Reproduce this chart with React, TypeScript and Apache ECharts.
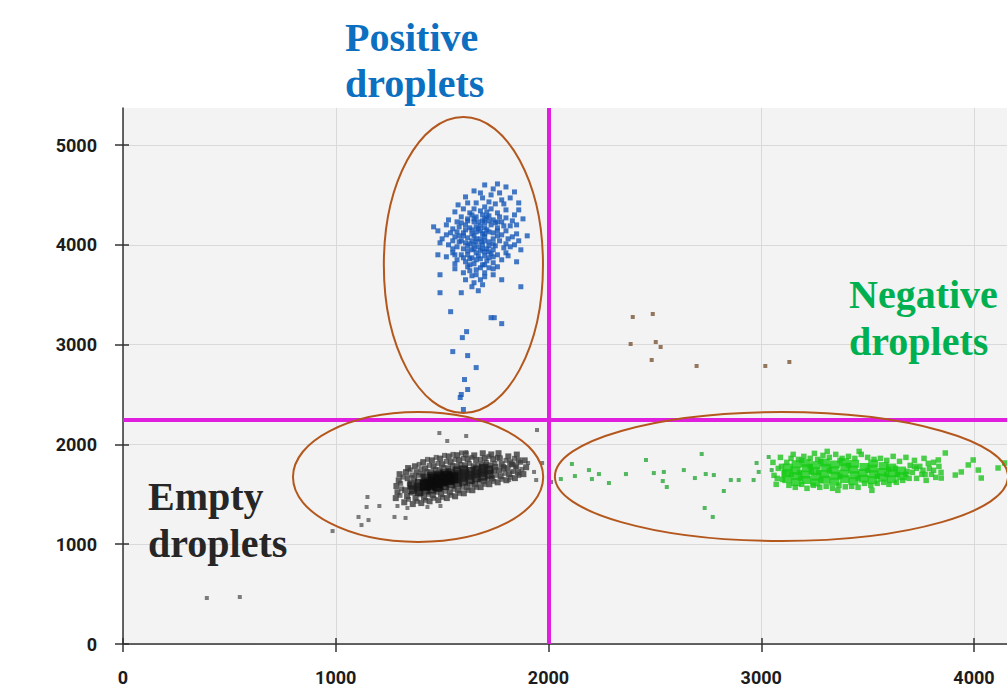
import React, { useEffect, useRef } from 'react';
import * as echarts from 'echarts';

// ---- axes ----
const xTickValues = [0, 1000, 2000, 3000, 4000];
const yTickValues = [0, 1000, 2000, 3000, 4000, 5000];
const X_MAX = 4155;
const Y_MAX = 5371;

// ---- thresholds ----
const thresholdX = 2000;
const thresholdY = 2250;

// ---- droplet clusters (x = channel 2 amplitude, y = channel 1 amplitude) ----
const positiveDroplets = [
  [1700,4600],[1760,4610],[1800,4580],[1740,4560],[1650,4540],[1840,4530],
  [1610,4480],[1690,4470],[1730,4500],[1780,4450],[1820,4470],[1860,4420],[1660,4420],[1750,4410],[1575,4400],
  [1560,4330],[1600,4360],[1640,4300],[1680,4340],[1700,4380],[1720,4290],[1760,4320],[1800,4350],[1840,4300],[1880,4260],[1620,4260],[1660,4280],[1700,4260],[1740,4250],[1590,4280],[1530,4250],[1860,4350],
  [1460,4180],[1480,4140],[1520,4200],[1550,4160],[1570,4230],[1600,4120],[1610,4200],[1630,4170],[1650,4230],[1660,4130],[1680,4190],[1690,4110],[1700,4220],[1710,4150],[1730,4200],[1740,4120],[1760,4170],[1780,4230],[1800,4140],[1820,4190],[1850,4110],[1900,4090],[1640,4110],[1580,4180],[1620,4240],[1670,4160],[1720,4240],[1750,4220],[1690,4240],[1540,4120],
  [1500,4060],[1530,4000],[1560,4080],[1570,3980],[1590,4040],[1600,3960],[1620,4070],[1630,4010],[1640,3950],[1650,4090],[1660,4030],[1670,3980],[1680,4060],[1690,4000],[1700,4080],[1710,3960],[1720,4030],[1740,4060],[1750,3990],[1770,4040],[1790,3970],[1810,4060],[1840,4000],[1870,3950],[1610,4020],[1650,4000],[1685,4030],[1720,3990],[1580,4090],[1760,4090],[1490,4020],[1550,3960],[1820,3980],
  [1520,3880],[1550,3920],[1570,3850],[1590,3900],[1610,3830],[1620,3940],[1640,3870],[1650,3810],[1660,3920],[1680,3860],[1690,3800],[1700,3930],[1720,3870],[1740,3820],[1760,3900],[1780,3850],[1810,3890],[1850,3830],[1600,3870],[1670,3890],[1710,3840],[1730,3910],[1560,3810],[1800,3920],[1630,3800],[1480,3900],
  [1560,3760],[1600,3720],[1620,3780],[1640,3690],[1660,3750],[1680,3650],[1700,3720],[1720,3770],[1650,3620],[1690,3600],[1640,3580],[1670,3540],[1490,3700],[1780,3650],[1870,3580],[1590,3520],[1490,3520],[1630,3740],[1740,3700],
  [1640,4150],[1660,4180],[1680,4140],[1700,4170],[1720,4130],[1660,4060],[1700,4040],[1740,4010],[1620,3990],[1680,3940],
  [1700,3890],[1660,3850],[1640,4040],[1600,4090],[1580,4030],[1560,3900],[1620,3900],[1740,3950],[1760,4140],[1780,4100],
  [1790,4190],[1700,4110],[1670,4230],[1630,4320],[1710,4330],[1650,4360],[1690,4300],[1730,4360],[1770,4280],[1610,4150],
  [1590,4220],[1570,4130],[1550,4040],[1520,4100],[1650,3960],[1690,3960],[1720,3930],[1740,3880],[1630,3860],[1660,3700],
  [1700,3680],[1610,3650],[1700,3800],[1680,3770],[1760,3780],[1740,3760],[1650,4260],[1710,4280],[1760,4230],[1800,4270],
  [1830,4240],[1790,4410],[1720,4430],[1680,4520],[1770,4520],[1620,4420],[1850,4200],[1830,4080],[1800,4010],[1860,4040],
  [1540,3330],[1730,3270],[1745,3270],[1780,3210],[1615,3130],[1595,3070],[1550,2930],[1620,2890],[1660,2770],[1605,2650],[1620,2550],[1590,2500],[1600,2350],[1585,2470],
];

const emptyCenter = [
  [1420,1590],[1440,1600],[1470,1620],[1500,1635],[1530,1650],[1460,1650],[1490,1665],[1520,1680],[1550,1665],[1480,1590],
];

const emptyCore = [
  [1362,1545],[1358,1592],
  [1391,1528],[1388,1572],[1394,1612],
  [1422,1542],[1418,1586],[1425,1627],[1420,1662],
  [1452,1553],[1448,1602],[1455,1641],[1450,1682],
  [1481,1568],[1478,1611],[1485,1652],[1480,1692],
  [1512,1587],[1508,1626],[1515,1664],[1510,1706],
  [1541,1602],[1538,1641],[1545,1682],[1540,1716],
  [1572,1616],[1568,1656],[1575,1697],[1570,1734],
  [1601,1632],[1598,1671],[1605,1712],[1600,1744],
  [1632,1647],[1628,1691],[1635,1729],
  [1661,1667],[1658,1706],[1665,1744],
  [1692,1682],[1688,1721],[1695,1758],
  [1722,1702],[1718,1744],
];

const emptyBody = [
  [1282,1462],[1290,1521],[1285,1583],[1296,1640],[1300,1702],
  [1322,1420],[1335,1482],[1326,1541],[1338,1661],[1330,1722],[1340,1763],
  [1362,1402],[1375,1461],[1368,1662],[1380,1721],[1372,1781],
  [1402,1412],[1415,1470],[1408,1702],[1420,1760],[1411,1822],
  [1441,1430],[1456,1492],[1448,1721],[1460,1781],[1452,1840],
  [1482,1441],[1495,1502],[1488,1742],[1500,1801],[1491,1858],
  [1522,1462],[1536,1521],[1528,1760],[1540,1822],[1531,1880],
  [1561,1480],[1575,1541],[1568,1781],[1580,1840],[1571,1892],
  [1602,1510],[1616,1572],[1608,1790],[1620,1851],[1611,1902],
  [1642,1541],[1655,1600],[1648,1781],[1660,1842],[1651,1890],
  [1681,1572],[1696,1631],[1688,1800],[1700,1861],[1691,1911],
  [1722,1601],[1735,1660],[1728,1790],[1740,1852],[1731,1900],
  [1761,1620],[1775,1681],[1768,1741],[1780,1802],[1771,1860],[1765,1912],
  [1802,1641],[1815,1702],[1808,1762],[1820,1821],[1811,1880],
  [1842,1662],[1856,1722],[1848,1781],[1860,1840],[1851,1898],
  [1882,1702],[1895,1771],[1888,1840],
  [1750,1775],[1790,1760],[1830,1800],[1745,1740],[1705,1790],
];

const emptyFringe = [
  [1302,1490],[1310,1555],[1305,1610],[1316,1672],
  [1342,1450],[1355,1512],[1346,1600],[1358,1692],[1350,1745],
  [1382,1430],[1395,1495],[1388,1690],[1400,1750],[1392,1800],
  [1422,1440],[1436,1500],[1428,1730],[1440,1790],[1431,1850],
  [1461,1460],[1476,1520],[1468,1750],[1480,1810],[1472,1870],
  [1502,1470],[1515,1530],[1508,1770],[1520,1830],[1511,1890],
  [1542,1490],[1556,1550],[1548,1790],[1560,1850],[1551,1900],
  [1581,1510],[1595,1570],[1588,1800],[1600,1860],[1591,1915],
  [1622,1540],[1636,1600],[1628,1810],[1640,1870],
  [1662,1570],[1675,1630],[1668,1790],[1680,1850],
  [1701,1600],[1716,1650],[1708,1820],[1720,1880],
  [1742,1630],[1755,1690],[1748,1810],[1760,1870],
  [1781,1650],[1795,1710],[1788,1780],[1800,1840],
  [1822,1670],[1835,1730],[1828,1800],[1840,1860],
  [1862,1700],[1875,1750],[1868,1820],
];

const emptyOutliers = [
  [1487,2114],[1524,2034],[1613,2084],[1613,1924],[1946,2144],[1904,1814],[1847,1774],[1829,1724],
  [1815,1643],[1862,1683],[1932,1724],[1942,1643],[1970,1814],[2002,1673],[2012,1623],
  [1149,1473],[1145,1373],[1205,1383],[1107,1273],[1121,1192],[1154,1242],[1276,1273],[1328,1263],
  [1290,1383],[1337,1363],[1431,1373],[1492,1383],[985,1132],[394,461],[549,471],
];

const negativeCore = [
  [3122,1652],[3118,1712],[3125,1768],
  [3163,1622],[3168,1684],[3160,1738],[3166,1801],
  [3212,1643],[3207,1698],[3215,1762],[3209,1813],
  [3254,1618],[3258,1677],[3251,1733],[3256,1792],
  [3302,1647],[3297,1703],[3305,1766],[3299,1818],
  [3343,1626],[3348,1687],[3341,1741],[3346,1799],
  [3392,1652],[3387,1708],[3395,1772],[3389,1822],
  [3433,1631],[3438,1692],[3431,1748],[3436,1806],
  [3482,1657],[3477,1713],[3485,1774],
  [3523,1642],[3528,1702],[3521,1758],[3526,1808],
  [3572,1667],[3567,1723],[3575,1783],
  [3613,1651],[3618,1712],[3611,1768],
  [3662,1682],[3657,1738],
];

const negativeBody = [
  [3055,1820],[3060,1690],[3070,1600],[3080,1760],[3090,1870],[3100,1650],[3110,1720],[3075,1660],[3095,1780],
  [3130,1590],[3140,1860],[3150,1900],[3160,1570],[3175,1850],[3190,1600],[3200,1880],[3215,1560],[3230,1860],[3245,1590],[3250,1910],[3180,1720],[3235,1730],
  [3265,1850],[3275,1570],[3290,1890],[3305,1580],[3320,1870],[3335,1560],[3350,1900],[3365,1590],[3380,1860],[3395,1575],[3310,1930],[3360,1540],[3270,1720],
  [3410,1880],[3425,1580],[3440,1860],[3455,1570],[3470,1900],[3485,1610],[3500,1870],[3515,1590],[3530,1850],[3545,1610],[3460,1930],[3520,1540],
  [3560,1860],[3575,1620],[3590,1840],[3600,1600],[3620,1880],[3635,1620],[3650,1830],[3665,1640],[3680,1870],[3695,1660],[3700,1790],[3685,1730],[3640,1700],[3600,1750],
  [3710,1720],[3720,1840],[3730,1660],[3745,1780],[3755,1700],[3765,1860],[3775,1640],[3790,1760],[3800,1700],[3810,1820],[3820,1670],[3835,1780],[3845,1720],[3730,1760],[3760,1740],[3785,1810],
  [3832,1844],[3865,1914],[3912,1693],[3940,1724],[3973,1794],[3996,1844],[4020,1743],[4034,1663],[4113,1764],[4144,1814],[3846,1663],
  [3140,1700],[3185,1660],[3230,1780],[3280,1640],[3320,1740],[3370,1680],[3410,1790],[3455,1660],[3500,1740],[3545,1680],
  [3590,1700],[3630,1760],[3680,1700],[3720,1780],[3770,1700],[3810,1740],[3120,1820],[3190,1840],[3280,1830],[3370,1840],
];

const negativeSparse = [
  [2058,1653],[2110,1804],[2124,1683],[2190,1743],[2204,1653],[2237,1703],[2284,1613],[2364,1703],
  [2458,1844],[2495,1713],[2542,1724],[2537,1633],[2556,1573],[2636,1743],[2688,1663],[2720,1904],
  [2739,1703],[2777,1693],[2824,1533],[2734,1363],[2772,1273],[2857,1643],[2894,1643],[2964,1643],
  [2978,1814],[2988,1724],[3035,1874],[3049,1743],
];

const rainDroplets = [
  [2396,3277],[2490,3307],[2386,3006],[2504,3026],[2527,2976],[2485,2846],[2696,2786],[3019,2786],[3132,2826],
];

// gates drawn around the clusters, in data units
const gates = [
  { cx: 1600, cy: 3798, rx: 374, ry: 1483 },
  { cx: 1387, cy: 1673, rx: 588, ry: 651 },
  { cx: 3095, cy: 1678, rx: 1065, ry: 646 },
];

const tickFormatter = (v: number) => (v % 1000 === 0 ? String(v) : '');

const labelFont = {
  color: '#1c1c1c',
  fontFamily: 'Roboto',
  fontWeight: 'bold' as const,
  fontSize: 18,
};

export default function App() {
  const ref = useRef<HTMLDivElement>(null);

  useEffect(() => {
    if (!ref.current) return;
    const chart = echarts.init(ref.current, undefined, { renderer: 'svg' });

    const axisLineStyle = { color: '#333', width: 1.5 };

    const scatter = (name: string, data: number[][], size: any, color: string, z = 2) => ({
      name,
      type: 'scatter',
      data,
      symbol: 'rect',
      symbolSize: size,
      itemStyle: { color },
      silent: true,
      z,
    });

    chart.setOption({
      animation: false,
      grid: {
        left: 123,
        right: 0,
        top: 108,
        bottom: 50,
        show: true,
        backgroundColor: '#f3f3f3',
        borderWidth: 0,
      },
      xAxis: [
        {
          type: 'value',
          min: 0,
          max: X_MAX,
          interval: 1000,
          position: 'bottom',
          axisLine: { show: true, onZero: false, lineStyle: axisLineStyle },
          axisTick: { show: true, length: 8, lineStyle: axisLineStyle, customValues: xTickValues },
          axisLabel: { ...labelFont, margin: 24, formatter: tickFormatter, customValues: xTickValues },
          splitLine: { show: true, lineStyle: { color: '#d9d9d9', width: 1 } },
        },
        {
          type: 'value',
          min: 0,
          max: X_MAX,
          interval: 1000,
          position: 'bottom',
          axisLine: { show: false },
          axisTick: { show: true, inside: true, length: 6, lineStyle: axisLineStyle, customValues: xTickValues },
          axisLabel: { show: false },
          splitLine: { show: false },
        },
      ],
      yAxis: [
        {
          type: 'value',
          min: 0,
          max: Y_MAX,
          interval: 1000,
          position: 'left',
          axisLine: { show: true, onZero: false, lineStyle: axisLineStyle },
          axisTick: { show: true, length: 8, lineStyle: axisLineStyle, customValues: yTickValues },
          axisLabel: { ...labelFont, margin: 26, formatter: tickFormatter, customValues: yTickValues },
          splitLine: { show: true, lineStyle: { color: '#d9d9d9', width: 1 } },
        },
        {
          type: 'value',
          min: 0,
          max: Y_MAX,
          interval: 1000,
          position: 'left',
          axisLine: { show: false },
          axisTick: { show: true, inside: true, length: 6, lineStyle: axisLineStyle, customValues: yTickValues },
          axisLabel: { show: false },
          splitLine: { show: false },
        },
      ],
      series: [
        scatter('Empty outliers', emptyOutliers, 4, '#5c5c5c'),
        scatter('Empty fringe', emptyFringe, 5, '#555555'),
        scatter('Empty body', emptyBody, 6, '#3a3a3a'),
        scatter('Empty core', emptyCore, 9, '#1c1c1c'),
        scatter('Empty center', emptyCenter, 11, '#0b0b0b'),
        scatter('Negative sparse', negativeSparse, 4, '#2aa83a'),
        scatter('Negative body', negativeBody, 5.5, '#1fc41f'),
        scatter('Negative core', negativeCore, [10, 8], '#17cc17'),
        scatter('Positive', positiveDroplets, 5, '#1558b8'),
        {
          ...scatter('Rain', rainDroplets, 4, '#7a5535'),
          markLine: {
            silent: true,
            symbol: ['none', 'none'],
            label: { show: false },
            emphasis: { disabled: true },
            lineStyle: { color: '#e01ee0', width: 4, type: 'solid' },
            data: [{ xAxis: thresholdX }, { yAxis: thresholdY }],
          },
        },
      ],
    });

    const toPx = (x: number, y: number) =>
      chart.convertToPixel({ xAxisIndex: 0, yAxisIndex: 0 }, [x, y]) as number[];

    const ellipses = gates.map((g) => {
      const c = toPx(g.cx, g.cy);
      const ex = toPx(g.cx + g.rx, g.cy);
      const ey = toPx(g.cx, g.cy + g.ry);
      return {
        type: 'ellipse',
        silent: true,
        z: 100,
        shape: { cx: c[0], cy: c[1], rx: Math.abs(ex[0] - c[0]), ry: Math.abs(c[1] - ey[1]) },
        style: { fill: 'none', stroke: '#b3571d', lineWidth: 2 },
      };
    });

    const serif = (text: string, x: number, y: number, fill: string) => ({
      type: 'text',
      silent: true,
      z: 101,
      x,
      y,
      style: {
        text,
        fill,
        fontFamily: '"Liberation Serif", "Times New Roman", serif',
        fontWeight: 'bold',
        fontSize: 40,
        align: 'left',
        verticalAlign: 'middle',
      },
    });

    chart.setOption({
      graphic: [
        ...ellipses,
        serif('Positive', 345, 37, '#0d6fbf'),
        serif('droplets', 345, 83, '#0d6fbf'),
        serif('Negative', 849, 294, '#00b050'),
        serif('droplets', 849, 341, '#00b050'),
        serif('Empty', 148, 496, '#262626'),
        serif('droplets', 148, 543, '#262626'),
      ],
    });

    return () => chart.dispose();
  }, []);

  return (
    <div
      ref={ref}
      style={{ position: 'absolute', left: 0, top: 0, width: 1007, height: 694, background: '#ffffff' }}
    />
  );
}
